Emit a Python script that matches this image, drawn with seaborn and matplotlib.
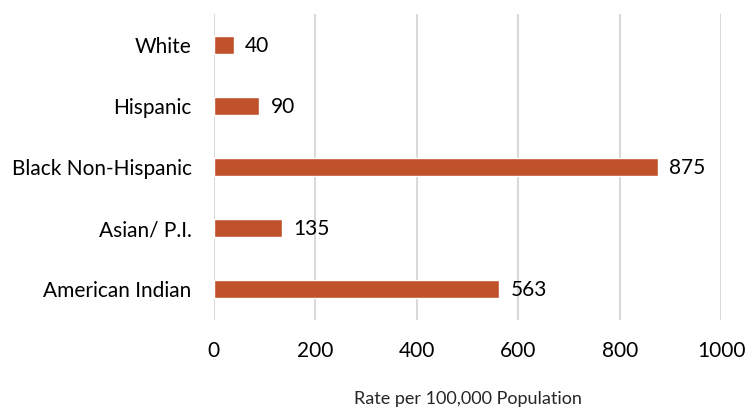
import matplotlib
matplotlib.use('Agg')
import matplotlib.pyplot as plt
import pandas as pd
import seaborn as sns

groups = ['White', 'Hispanic', 'Black Non-Hispanic', 'Asian/ P.I.', 'American Indian']
rates = [40, 90, 875, 135, 563]
xticks = [0, 200, 400, 600, 800, 1000]

df = pd.DataFrame({'group': groups, 'rate': rates})

sns.set_style('white')
plt.rcParams['font.family'] = ['Lato', 'DejaVu Sans']

fig = plt.figure(figsize=(7.45, 4.11), dpi=100)
ax = fig.add_axes([0.287, 0.222, 0.681, 0.743])

sns.barplot(data=df, x='rate', y='group', color='#C0522B', width=0.3,
            saturation=1, ax=ax, zorder=3)

# value labels
for i, v in enumerate(rates):
    ax.text(v + 22, i + 0.02, str(v), va='center', ha='left', fontsize=15, color='#000000')

ax.set_xlim(0, 1000)
ax.set_xticks(xticks)
ax.set_xticklabels([str(t) for t in xticks])
ax.grid(axis='x', color='#D9D9D9', linewidth=1.5, zorder=0)
ax.set_axisbelow(True)
for s in ax.spines.values():
    s.set_visible(False)
ax.tick_params(axis='both', length=0, labelsize=15, colors='#000000')
ax.tick_params(axis='x', pad=15)
ax.tick_params(axis='y', pad=16)
ax.set_ylabel('')
ax.set_xlabel('Rate per 100,000 Population', fontsize=13, labelpad=22)

fig.savefig('out.png', dpi=100)
